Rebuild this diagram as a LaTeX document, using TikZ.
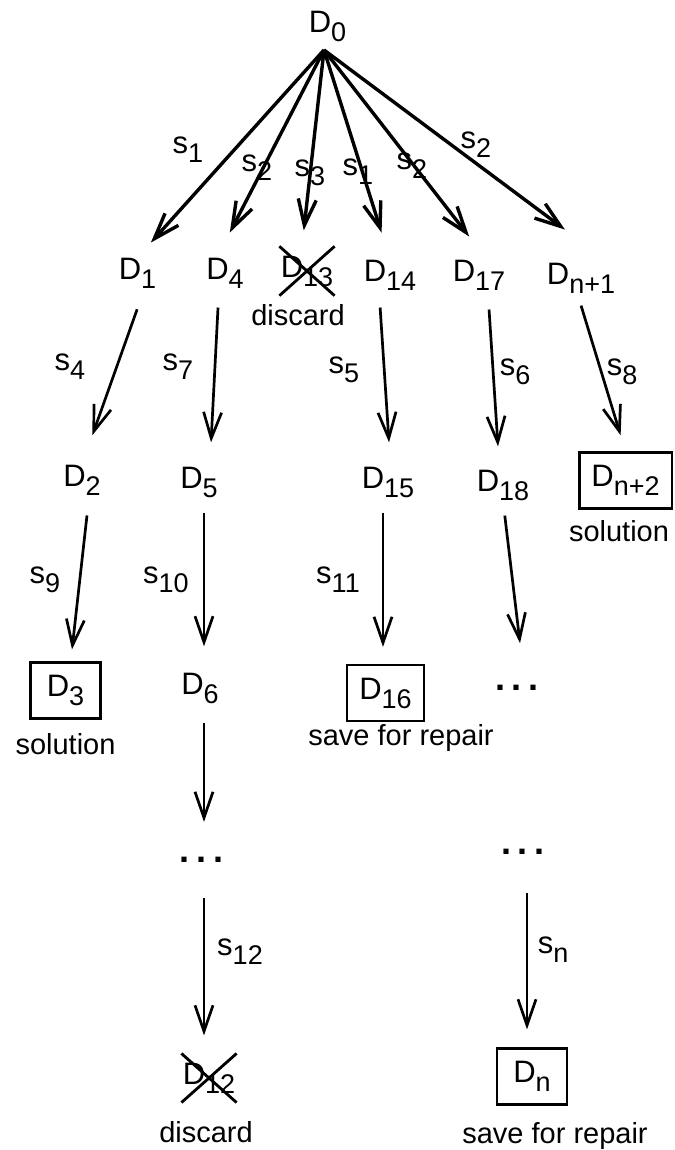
\documentclass[tikz,border=0pt]{standalone}
\usepackage{fontspec}
\setmainfont{Liberation Sans}
\usepackage{tikz}
\usetikzlibrary{arrows.meta,calc,positioning,shapes.misc}

\newcommand{\dsub}[1]{\raisebox{-4.5pt}{\fontsize{13.5}{13.5}\selectfont #1}}
\newcommand{\moredots}{{\fontsize{18}{18}\bfseries .\kern3.5pt.\kern3.5pt.}}

\begin{document}
\begin{tikzpicture}[x=0.5pt, y=-0.5pt,
  dnode/.style={inner sep=0pt, font=\fontsize{15.5}{18}\selectfont},
  lab/.style={inner sep=0pt, font=\fontsize{15.5}{18}\selectfont},
  note/.style={inner sep=0pt, font=\fontsize{14.5}{17}\selectfont},
  boxed/.style={dnode, draw, line width=1.1pt, inner xsep=6pt, minimum width=35pt, minimum height=28pt},
  crossed/.style={dnode, cross out, draw, line width=1.4pt, inner xsep=0pt, inner ysep=4pt},
  arr/.style={-{Straight Barb[length=13pt, width=9pt]}, line width=1.35pt},
  fanarr/.style={arr, line width=1.7pt}]

\useasboundingbox (0,0) rectangle (674,1150);

% Albero di ricerca: radice e primo livello
\node[dnode] (D0) at (327.5,26) {D\dsub{0}};
\coordinate (fan) at (324,50);

\node[dnode] (D1) at (137.5,273) {D\dsub{1}};
\node[dnode] (D4) at (225,273) {D\dsub{4}};
\node[crossed] (D13) at (307,271) {D\dsub{13}};
\node[dnode] (D14) at (390,275) {D\dsub{14}};
\node[dnode] (D17) at (479,275) {D\dsub{17}};
\node[dnode] (Dn1) at (581,278) {D\dsub{n+1}};
\node[note] (dis1) at (298,315) {discard};

\node[lab] (t1) at (188,150) {s\dsub{1}};
\node[lab] (t2) at (257,168) {s\dsub{2}};
\node[lab] (t3) at (310,173) {s\dsub{3}};
\node[lab] (t4) at (358,172) {s\dsub{1}};
\node[lab] (t5) at (412,166) {s\dsub{2}};
\node[lab] (t6) at (476,145) {s\dsub{2}};

\draw[fanarr, shorten >=10pt] (fan) -- (D1.north);
\draw[fanarr, shorten >=14pt] (fan) -- ([xshift=-4pt]D4.north);
\draw[fanarr, shorten >=8pt] (fan) -- ([xshift=-2.5pt]D13.north);
\draw[fanarr, shorten >=14pt] (fan) -- (D14.north);
\draw[fanarr, shorten >=14.5pt] (fan) -- ([xshift=4pt]D17.north);
\draw[fanarr, shorten >=27.5pt] (fan) -- ([xshift=14pt]Dn1.north);

% secondo livello
\node[dnode] (D2) at (82,480) {D\dsub{2}};
\node[dnode] (D5) at (199,482) {D\dsub{5}};
\node[dnode] (D15) at (388,482) {D\dsub{15}};
\node[dnode] (D18) at (503,485) {D\dsub{18}};
\node[boxed] (Dn2) at (625.5,480.5) {D\dsub{n+2}};
\node[note] (sol1) at (619,531) {solution};

\node[lab] (t7) at (70,367) {s\dsub{4}};
\node[lab] (t8) at (178,367) {s\dsub{7}};
\node[lab] (t9) at (344,370) {s\dsub{5}};
\node[lab] (t10) at (515,372) {s\dsub{6}};
\node[lab] (t11) at (622,372) {s\dsub{8}};

\draw[arr, shorten <=11pt, shorten >=15.5pt] ([xshift=3.5pt]D1.south) -- (D2.north);
\draw[arr, shorten <=9.5pt, shorten >=12pt] ([xshift=-3pt]D4.south) -- ([xshift=5.4pt]D5.north);
\draw[arr, shorten <=8.5pt, shorten >=12pt] ([xshift=-5.5pt]D14.south) -- ([xshift=1.3pt]D15.north);
\draw[arr, shorten <=9.5pt, shorten >=11.5pt] ([xshift=4.4pt]D17.south) -- ([xshift=-1.75pt]D18.north);
\draw[arr, shorten <=6.3pt, shorten >=8.4pt] ([xshift=-1.8pt]Dn1.south) -- (Dn2.north);

% terzo livello
\node[boxed] (D3) at (65.5,690.5) {D\dsub{3}};
\node[dnode] (D6) at (200,688) {D\dsub{6}};
\node[boxed] (D16) at (385.5,693) {D\dsub{16}};
\node[dnode] (dots1) at (517,688) {\moredots};
\node[note] (sol2) at (65.5,744) {solution};
\node[note] (save1) at (401,738) {save for repair};

\node[lab] (t12) at (45,580) {s\dsub{9}};
\node[lab] (t13) at (166,580) {s\dsub{10}};
\node[lab] (t14) at (338,580) {s\dsub{11}};

\draw[arr, shorten <=10pt, shorten >=6pt] ([xshift=3.6pt]D2.south) -- ([xshift=2.6pt]D3.north);
\draw[arr, shorten <=7.5pt, shorten >=13pt] ([xshift=2.5pt]D5.south) -- ([xshift=2pt]D6.north);
\draw[arr, shorten <=7.5pt, shorten >=8.5pt] ([xshift=-2.5pt]D15.south) -- ([xshift=-1.25pt]D16.north);
\draw[arr, shorten <=7.5pt, shorten >=21pt] (D18.south) -- ([xshift=4pt]dots1.north);

% rami lunghi fino alle foglie
\node[dnode] (dots2) at (202,860) {\moredots};
\node[dnode] (dots3) at (523,852) {\moredots};
\node[crossed] (D12) at (209,1078) {D\dsub{12}};
\node[boxed] (Dn) at (532,1076.5) {D\dsub{n}};
\node[note] (dis2) at (206,1132) {discard};
\node[note] (save2) at (555,1136) {save for repair};

\node[lab] (t15) at (240,952) {s\dsub{12}};
\node[lab] (t16) at (553,950) {s\dsub{n}};

\draw[arr, shorten <=9.5pt, shorten >=17.5pt] ([xshift=2pt]D6.south) -- ([xshift=1pt]dots2.north);
\draw[arr, shorten <=17.5pt, shorten >=9pt] ([xshift=1pt]dots2.south) -- ([xshift=-2.5pt]D12.north);
\draw[arr, shorten <=19pt, shorten >=9pt] ([xshift=2pt]dots3.south) -- ([xshift=-2.5pt]Dn.north);

\end{tikzpicture}
\end{document}
